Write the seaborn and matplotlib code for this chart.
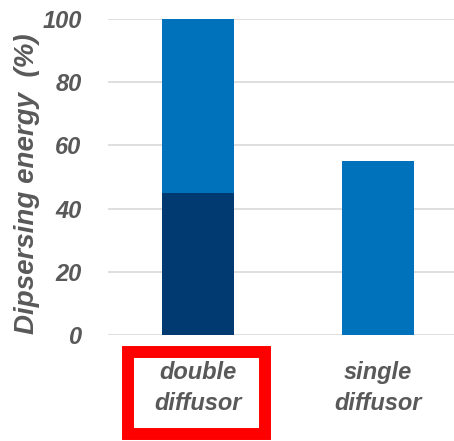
import matplotlib
matplotlib.use("Agg")
import matplotlib.pyplot as plt
from matplotlib.patches import Rectangle
import seaborn as sns
import pandas as pd

categories = ["double\ndiffusor", "single\ndiffusor"]
lower_part = [45, 0]      # dark segment
upper_part = [55, 55]     # blue segment
y_ticks = [0, 20, 40, 60, 80, 100]

sns.set_theme(style="white")
plt.rcParams["font.family"] = ["Liberation Sans", "DejaVu Sans"]

W, H, DPI = 454, 441, 100
fig = plt.figure(figsize=(W / DPI, H / DPI), dpi=DPI)
ax = fig.add_axes([108 / W, (H - 335) / H, 360 / W, 316 / H])

df = pd.DataFrame({
    "category": categories,
    "lower": lower_part,
    "total": [a + b for a, b in zip(lower_part, upper_part)],
})

blue = "#0072BB"
navy = "#003A70"
sns.barplot(data=df, x="category", y="total", color=blue, width=0.4,
            saturation=1, linewidth=0, ax=ax, zorder=3)
sns.barplot(data=df, x="category", y="lower", color=navy, width=0.4,
            saturation=1, linewidth=0, ax=ax, zorder=4)

ax.set_xlim(-0.5, 1.5)
ax.set_ylim(0, 100)
ax.set_yticks(y_ticks)
ax.grid(axis="y", color="#D9D9D9", linewidth=1.2, zorder=0)
ax.grid(axis="x", visible=False)
for s in ax.spines.values():
    s.set_visible(False)

tick_font = dict(fontsize=17, fontweight="bold", fontstyle="italic", color="#595959")
ax.tick_params(axis="y", length=0, pad=19)
ax.tick_params(axis="x", length=0, pad=19)
for lbl in ax.get_yticklabels():
    lbl.set(**tick_font)
for lbl in ax.get_xticklabels():
    lbl.set(**tick_font)
    lbl.set_linespacing(1.45)

ax.set_xlabel("")
ax.set_ylabel("Dipsersing energy  (%)", fontsize=20, fontweight="bold",
              fontstyle="italic", color="#595959")
ax.yaxis.set_label_coords(-68 / 360, 0.48)

# Highlight frame around the first category label
fig.patches.append(Rectangle((128 / W, (H - 434) / H), 137 / W, 82 / H,
                             transform=fig.transFigure, fill=False,
                             edgecolor="#FF0000", linewidth=8.6, zorder=10))

fig.savefig("out.png", dpi=DPI)
